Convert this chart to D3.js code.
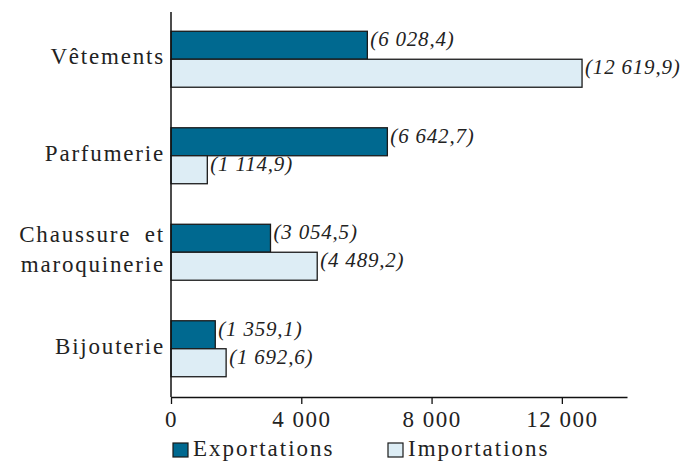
<!DOCTYPE html>
<html>
<head>
  <meta charset="utf-8">
  <script src="https://cdn.jsdelivr.net/npm/d3@7"></script>
  <style>
    body { margin: 0; background: #fff; }
    text { font-family: "Liberation Serif", "Times New Roman", serif; fill: #222; }
  </style>
</head>
<body>
<script>
  // Données (millions d'euros)
  const categories = ["Vêtements", "Parfumerie", "Chaussure et\nmaroquinerie", "Bijouterie"];
  const series = ["Exportations", "Importations"];
  const exportations = [6028.4, 6642.7, 3054.5, 1359.1];
  const importations = [12619.9, 1114.9, 4489.2, 1692.6];
  const xTicks = [0, 4000, 8000, 12000];
  const colors = ["#006990", "#ddedf5"];

  const values = [exportations, importations];
  const W = 684, H = 461;

  const fr = d3.formatLocale({ decimal: ",", thousands: " ", grouping: [3], currency: ["", ""] });
  const fmtTick = fr.format(",d");
  const fmtVal = fr.format(",.1f");

  const svg = d3.select("body").append("svg")
    .attr("width", W)
    .attr("height", H);

  // Echelles
  const x = d3.scaleLinear().domain([0, 14000]).range([171, 627]);
  const y = d3.scaleBand().domain(categories).range([11, 397]).paddingInner(0.42).paddingOuter(0.21);
  const ySub = d3.scaleBand().domain(series).range([0, y.bandwidth()]);

  // Barres
  const groups = svg.selectAll("g.cat")
    .data(categories)
    .enter()
    .append("g")
    .attr("class", "cat")
    .attr("transform", d => "translate(0," + y(d) + ")");

  groups.selectAll("rect")
    .data((d, i) => series.map((s, j) => ({ s: s, v: values[j][i], j: j })))
    .enter()
    .append("rect")
    .attr("x", x(0))
    .attr("y", d => ySub(d.s))
    .attr("width", d => x(d.v) - x(0))
    .attr("height", ySub.bandwidth())
    .attr("fill", d => colors[d.j])
    .attr("stroke", "#1a1a1a")
    .attr("stroke-width", 1.3);

  // Etiquettes de valeur
  groups.selectAll("text.val")
    .data((d, i) => series.map((s, j) => ({ s: s, v: values[j][i] })))
    .enter()
    .append("text")
    .attr("class", "val")
    .attr("x", d => x(d.v) + 3)
    .attr("y", d => ySub(d.s) + ySub.bandwidth() / 2 + 1)
    .style("font-size", "21px")
    .style("font-style", "italic")
    .style("letter-spacing", "0.8px")
    .text(d => "(" + fmtVal(d.v) + ")");

  // Axe horizontal
  const xAxis = svg.append("g")
    .attr("transform", "translate(0,397)")
    .call(d3.axisBottom(x).tickValues(xTicks).tickFormat(fmtTick).tickSize(7).tickSizeOuter(0));
  xAxis.select(".domain").attr("stroke", "#111").attr("stroke-width", 1.5);
  xAxis.selectAll(".tick line").attr("stroke", "#111").attr("stroke-width", 1.3);
  xAxis.selectAll(".tick text")
    .attr("y", 30)
    .attr("dy", 0)
    .style("font-size", "23px")
    .style("letter-spacing", "1.5px")
    .attr("fill", "#222");

  // Axe vertical
  const yAxis = svg.append("g")
    .attr("transform", "translate(171,0)")
    .call(d3.axisLeft(y).tickSize(0).tickSizeOuter(0).tickFormat(""));
  yAxis.select(".domain").attr("stroke", "#111").attr("stroke-width", 1.5)
    .attr("d", "M0,12V397");

  yAxis.selectAll(".tick").each(function (d) {
    const lines = d.split("\n");
    const t = d3.select(this).append("text")
      .attr("text-anchor", "end")
      .attr("x", -6)
      .style("font-size", "23px")
      .style("letter-spacing", "1.8px")
      .style("word-spacing", "6px");
    lines.forEach((l, i) => {
      t.append("tspan")
        .attr("x", -6)
        .attr("y", (i - (lines.length - 1) / 2) * 30 + 5)
        .text(l);
    });
  });

  // Légende
  const legX = [173, 388];
  const leg = svg.selectAll("g.leg")
    .data(series)
    .enter()
    .append("g")
    .attr("class", "leg")
    .attr("transform", (d, i) => "translate(" + legX[i] + ",443)");
  leg.append("rect")
    .attr("width", 15)
    .attr("height", 14)
    .attr("fill", (d, i) => colors[i])
    .attr("stroke", "#1a1a1a")
    .attr("stroke-width", 1.2);
  leg.append("text")
    .attr("x", 20)
    .attr("y", 13)
    .style("font-size", "23px")
    .style("letter-spacing", "2px")
    .text(d => d);
</script>
</body>
</html>
